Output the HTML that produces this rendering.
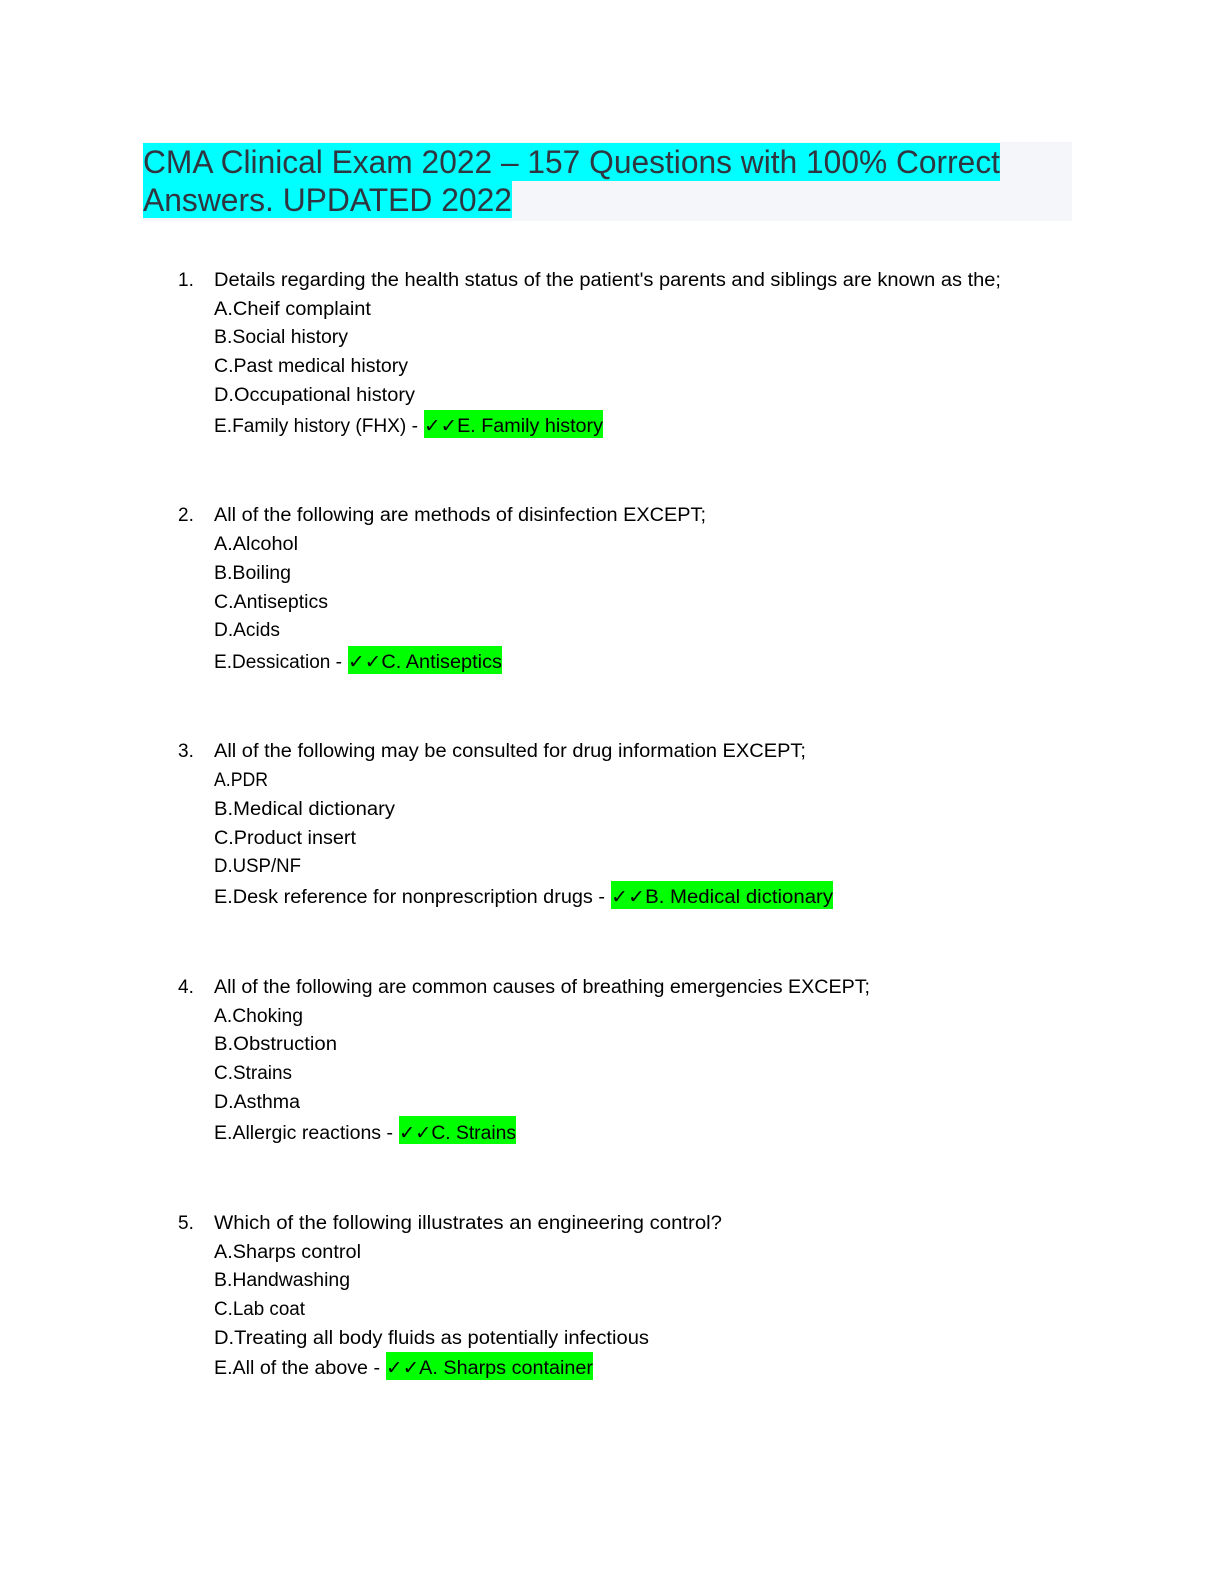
<!DOCTYPE html>
<html><head><meta charset="utf-8"><style>
html,body{margin:0;padding:0;background:#fff;}
svg{display:block;}
text{font-family:"Liberation Sans",sans-serif;font-size:19px;fill:#000;}
.t{font-size:32px;fill:#2f3640;}
</style></head><body>
<svg width="1224" height="1584" viewBox="0 0 1224 1584">
<rect x="143" y="142" width="929" height="79" fill="#f5f6fa"/>
<rect x="143" y="143" width="857" height="38" fill="#00ffff"/>
<rect x="143" y="181" width="369" height="37" fill="#00ffff"/>
<text class="t" x="143" y="173" textLength="857" lengthAdjust="spacingAndGlyphs">CMA Clinical Exam 2022 – 157 Questions with 100% Correct</text>
<text class="t" x="143" y="211" textLength="369" lengthAdjust="spacingAndGlyphs">Answers. UPDATED 2022</text>

<rect x="424" y="410" width="179" height="28" fill="#00ff00"/>
<rect x="348" y="646" width="154" height="28" fill="#00ff00"/>
<rect x="611" y="881" width="222" height="28" fill="#00ff00"/>
<rect x="399" y="1116" width="117" height="28" fill="#00ff00"/>
<rect x="386" y="1352" width="207" height="28" fill="#00ff00"/>

<g lengthAdjust="spacingAndGlyphs">
<text x="178" y="286">1.</text>
<text x="214" y="286" textLength="787" lengthAdjust="spacingAndGlyphs">Details regarding the health status of the patient's parents and siblings are known as the;</text>
<text x="214" y="315" textLength="157" lengthAdjust="spacingAndGlyphs">A.Cheif complaint</text>
<text x="214" y="343" textLength="134" lengthAdjust="spacingAndGlyphs">B.Social history</text>
<text x="214" y="372" textLength="194" lengthAdjust="spacingAndGlyphs">C.Past medical history</text>
<text x="214" y="401" textLength="201" lengthAdjust="spacingAndGlyphs">D.Occupational history</text>
<text x="214" y="432" textLength="204" lengthAdjust="spacingAndGlyphs">E.Family history (FHX) -</text>
<text x="424" y="432" textLength="179" lengthAdjust="spacingAndGlyphs">✓✓E. Family history</text>

<text x="178" y="521">2.</text>
<text x="214" y="521" textLength="492" lengthAdjust="spacingAndGlyphs">All of the following are methods of disinfection EXCEPT;</text>
<text x="214" y="550" textLength="84" lengthAdjust="spacingAndGlyphs">A.Alcohol</text>
<text x="214" y="579" textLength="77" lengthAdjust="spacingAndGlyphs">B.Boiling</text>
<text x="214" y="608" textLength="114" lengthAdjust="spacingAndGlyphs">C.Antiseptics</text>
<text x="214" y="636" textLength="66" lengthAdjust="spacingAndGlyphs">D.Acids</text>
<text x="214" y="668" textLength="128" lengthAdjust="spacingAndGlyphs">E.Dessication -</text>
<text x="348" y="668" textLength="154" lengthAdjust="spacingAndGlyphs">✓✓C. Antiseptics</text>

<text x="178" y="757">3.</text>
<text x="214" y="757" textLength="592" lengthAdjust="spacingAndGlyphs">All of the following may be consulted for drug information EXCEPT;</text>
<text x="214" y="786" textLength="54" lengthAdjust="spacingAndGlyphs">A.PDR</text>
<text x="214" y="815" textLength="181" lengthAdjust="spacingAndGlyphs">B.Medical dictionary</text>
<text x="214" y="844" textLength="142" lengthAdjust="spacingAndGlyphs">C.Product insert</text>
<text x="214" y="872" textLength="87" lengthAdjust="spacingAndGlyphs">D.USP/NF</text>
<text x="214" y="903" textLength="391" lengthAdjust="spacingAndGlyphs">E.Desk reference for nonprescription drugs -</text>
<text x="611" y="903" textLength="222" lengthAdjust="spacingAndGlyphs">✓✓B. Medical dictionary</text>

<text x="178" y="993">4.</text>
<text x="214" y="993" textLength="656" lengthAdjust="spacingAndGlyphs">All of the following are common causes of breathing emergencies EXCEPT;</text>
<text x="214" y="1022" textLength="89" lengthAdjust="spacingAndGlyphs">A.Choking</text>
<text x="214" y="1050" textLength="123" lengthAdjust="spacingAndGlyphs">B.Obstruction</text>
<text x="214" y="1079" textLength="78" lengthAdjust="spacingAndGlyphs">C.Strains</text>
<text x="214" y="1108" textLength="86" lengthAdjust="spacingAndGlyphs">D.Asthma</text>
<text x="214" y="1139" textLength="179" lengthAdjust="spacingAndGlyphs">E.Allergic reactions -</text>
<text x="399" y="1139" textLength="117" lengthAdjust="spacingAndGlyphs">✓✓C. Strains</text>

<text x="178" y="1229">5.</text>
<text x="214" y="1229" textLength="508" lengthAdjust="spacingAndGlyphs">Which of the following illustrates an engineering control?</text>
<text x="214" y="1258" textLength="147" lengthAdjust="spacingAndGlyphs">A.Sharps control</text>
<text x="214" y="1286" textLength="136" lengthAdjust="spacingAndGlyphs">B.Handwashing</text>
<text x="214" y="1315" textLength="91" lengthAdjust="spacingAndGlyphs">C.Lab coat</text>
<text x="214" y="1344" textLength="435" lengthAdjust="spacingAndGlyphs">D.Treating all body fluids as potentially infectious</text>
<text x="214" y="1374" textLength="166" lengthAdjust="spacingAndGlyphs">E.All of the above -</text>
<text x="386" y="1374" textLength="207" lengthAdjust="spacingAndGlyphs">✓✓A. Sharps container</text>
</g>
</svg>
</body></html>
